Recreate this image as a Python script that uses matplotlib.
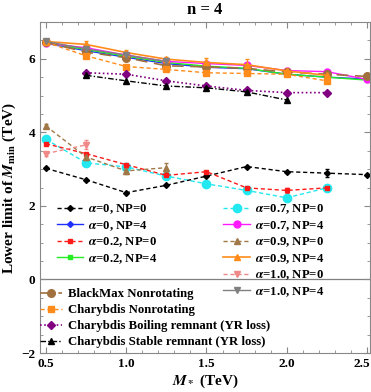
import matplotlib
matplotlib.use("Agg")
import matplotlib.pyplot as plt
import matplotlib.transforms as mtransforms
import numpy as np

plt.rcParams['font.family'] = ['Liberation Serif', 'DejaVu Serif']
plt.rcParams['font.weight'] = 'bold'
plt.rcParams['mathtext.fontset'] = 'stix'

# ---------------- data ----------------
x_full = [0.5, 0.75, 1.0, 1.25, 1.5, 1.75, 2.0, 2.25, 2.5]

a0_np0 = [3.02, 2.71, 2.36, 2.56, 2.81, 3.07, 2.93, 2.89, 2.85]
a0_np0_err = [0, 0, 0, 0, 0, 0, 0, 0.1, 0]
a0_np4 = [6.42, 6.22, 6.04, 5.87, 5.77, 5.73, 5.58, 5.50, 5.45]

x_a02 = [0.5, 0.75, 1.0, 1.25, 1.5, 1.75, 2.0, 2.25]
a02_np0 = [3.69, 3.42, 3.12, 2.83, 2.93, 2.49, 2.42, 2.49]
a02_np0_err = [0, 0, 0, 0, 0, 0, 0.07, 0]
a02_np4 = [6.43, 6.25, 6.07, 5.90, 5.80, 5.74, 5.58, 5.50, 5.42]

x_a07 = [0.5, 0.75, 1.0, 1.25, 1.5, 1.75, 2.0, 2.25]
a07_np0 = [3.81, 3.17, 3.06, 2.81, 2.60, 2.42, 2.22, 2.49]
a07_np4 = [6.42, 6.30, 6.10, 5.93, 5.87, 5.82, 5.68, 5.65, 5.44]

x_a09_np0 = [0.5, 0.75, 1.0, 1.25]
a09_np0 = [4.17, 3.33, 2.95, 3.04]
a09_np0_err = [0.05, 0.07, 0.07, 0.12]
x_a09_np4 = [0.5, 0.75, 1.0, 1.25, 1.5, 1.75, 2.0, 2.25]
a09_np4 = [6.47, 6.39, 6.17, 5.99, 5.90, 5.84, 5.67, 5.55]
a09_np4_err = [0.05, 0.1, 0.07, 0.07, 0.12, 0.15, 0.08, 0.05]

x_a10 = [0.5, 0.75]
a10_np0 = [3.42, 3.66]
a10_np0_err = [0.05, 0.12]
x_a10_np4 = [0.5, 0.75, 1.0, 1.25]
a10_np4 = [6.47, 6.27, 6.10, 5.93]
a10_np4_err = [0.03, 0.08, 0.06, 0.1]

blackmax = [6.45, 6.18, 6.03, 5.81, 5.78, 5.74, 5.64, 5.58, 5.52]
x_chary = [0.5, 0.75, 1.0, 1.25, 1.5, 1.75, 2.0, 2.25]
charybdis = [6.45, 6.08, 5.79, 5.71, 5.62, 5.60, 5.58, 5.40]

x_boil = [0.75, 1.0, 1.25, 1.5, 1.75, 2.0, 2.25]
boiling = [5.62, 5.58, 5.40, 5.26, 5.14, 5.08, 5.08]
x_stable = [0.75, 1.0, 1.25, 1.5, 1.75, 2.0]
stable = [5.55, 5.40, 5.26, 5.21, 5.10, 4.88]

xticks = [0.5, 1.0, 1.5, 2.0, 2.5]
xticklabels = ['0.5', '1.0', '1.5', '2.0', '2.5']
yticks = [-2, 0, 2, 4, 6]
yticklabels = ['\u22122', '0', '2', '4', '6']

# ---------------- figure ----------------
fig = plt.figure(figsize=(3.71, 3.92), dpi=100)
ax = fig.add_axes([40/371, (392-353)/392, 330/371, 331/392])

C_BROWN = '#a0703f'
C_ORANGE = '#ff8c1a'
C_PINK = '#f08888'

ax.axhline(0, color='#808080', lw=0.9, zorder=0)

def ser(x, y, color, ls, marker, ms, label, err=None, lw=1.0):
    if err is not None:
        c = ax.errorbar(x, y, yerr=err, color=color, ls=ls, marker=marker, ms=ms,
                        lw=lw, elinewidth=0.8, capsize=1.5)
        line = c[0]
        line.set_label(label)
        return line
    l, = ax.plot(x, y, color=color, ls=ls, marker=marker, ms=ms, lw=lw, label=label)
    return l

h_a0_0 = ser(x_full, a0_np0, 'black', (0, (3, 2)), 'D', 3, r'$\alpha$=0, NP=0', a0_np0_err)
h_a0_4 = ser(x_full, a0_np4, '#1f2fff', '-', 'D', 3, r'$\alpha$=0, NP=4')
h_a02_0 = ser(x_a02, a02_np0, '#ff1a1a', (0, (3, 2)), 's', 3.5, r'$\alpha$=0.2, NP=0', a02_np0_err)
h_a02_4 = ser(x_full, a02_np4, '#22ee22', '-', 's', 3.5, r'$\alpha$=0.2, NP=4')
h_a07_0 = ser(x_a07, a07_np0, '#22e8f0', (0, (3, 2)), 'o', 6, r'$\alpha$=0.7, NP=0')
h_a07_4 = ser(x_full, a07_np4, '#ff1aff', '-', 'o', 5, r'$\alpha$=0.7, NP=4')
h_a09_0 = ser(x_a09_np0, a09_np0, '#a07848', (0, (3, 2)), '^', 4, r'$\alpha$=0.9, NP=0', a09_np0_err)
h_a09_4 = ser(x_a09_np4, a09_np4, C_ORANGE, '-', '^', 4, r'$\alpha$=0.9, NP=4', a09_np4_err, lw=1.2)
h_a10_0 = ser(x_a10, a10_np0, C_PINK, (0, (3, 2)), 'v', 4, r'$\alpha$=1.0, NP=0', a10_np0_err)
h_a10_4 = ser(x_a10_np4, a10_np4, '#808080', '-', 'v', 4, r'$\alpha$=1.0, NP=4', a10_np4_err)

h_bm, = ax.plot(x_full, blackmax, color=C_BROWN, ls=(0, (7, 4)), marker='o', ms=5.5, lw=1.2,
                label='BlackMax Nonrotating')
h_ch, = ax.plot(x_chary, charybdis, color=C_ORANGE, ls=(0, (3, 2)), marker='s', ms=4, lw=1.0,
                label='Charybdis Nonrotating')
h_bo, = ax.plot(x_boil, boiling, color='#800080', ls=(0, (1, 1.5)), marker='D', ms=4, lw=1.2,
                label='Charybdis Boiling remnant (YR loss)')
h_st, = ax.plot(x_stable, stable, color='black', ls=(0, (4, 1.5, 1, 1.5)), marker='^', ms=4, lw=1.0,
                label='Charybdis Stable remnant (YR loss)')

ax.set_xlim(0.4626, 2.519)
ax.set_ylim(-2, 7)
ax.set_xticks(xticks)
ax.set_xticklabels(xticklabels)
ax.set_yticks(yticks)
ax.set_yticklabels(yticklabels)
ax.set_xticks(np.arange(0.5, 2.51, 0.1), minor=True)
ax.set_yticks(np.arange(-2, 7.01, 0.5), minor=True)
ax.tick_params(which='both', direction='in', top=True, right=True, labelsize=9.5, color='#888888')
ax.tick_params(which='major', length=4, width=0.8)
ax.tick_params(which='minor', length=2, width=0.6)
for lab in ax.get_xticklabels() + ax.get_yticklabels():
    lab.set_fontweight('bold')
# keep the last x tick label inside the canvas
last = ax.get_xticklabels()[-1]
last.set_transform(last.get_transform() +
                   mtransforms.ScaledTranslation(-5/100, 0, fig.dpi_scale_trans))
for s in ax.spines.values():
    s.set_color('#888888')
    s.set_linewidth(0.8)

ax.set_title('n = 4', fontsize=12, fontweight='bold', pad=6)
ax.set_xlabel(r'$M_*$ (TeV)', fontsize=11, fontweight='bold', labelpad=2)
ax.set_ylabel(r'Lower limit of $M_{\mathbf{min}}$ (TeV)', fontsize=11, fontweight='bold', labelpad=2)

lkw = dict(frameon=False, fontsize=9.2, handlelength=2.1, handletextpad=0.4,
           labelspacing=0.22, borderpad=0, borderaxespad=0)
leg1 = ax.legend(handles=[h_a0_0, h_a0_4, h_a02_0, h_a02_4], loc='upper left',
                 bbox_to_anchor=(0.05, 0.455), **lkw)
ax.add_artist(leg1)
leg2 = ax.legend(handles=[h_a07_0, h_a07_4, h_a09_0, h_a09_4, h_a10_0, h_a10_4], loc='upper left',
                 bbox_to_anchor=(0.555, 0.455), **lkw)
ax.add_artist(leg2)
leg3 = ax.legend(handles=[h_bm, h_ch, h_bo, h_st], loc='upper left',
                 bbox_to_anchor=(0.0, 0.196), **dict(lkw, handlelength=1.7, labelspacing=0.31,
                                                    handletextpad=0.5))

fig.savefig('out.png', dpi=100)
